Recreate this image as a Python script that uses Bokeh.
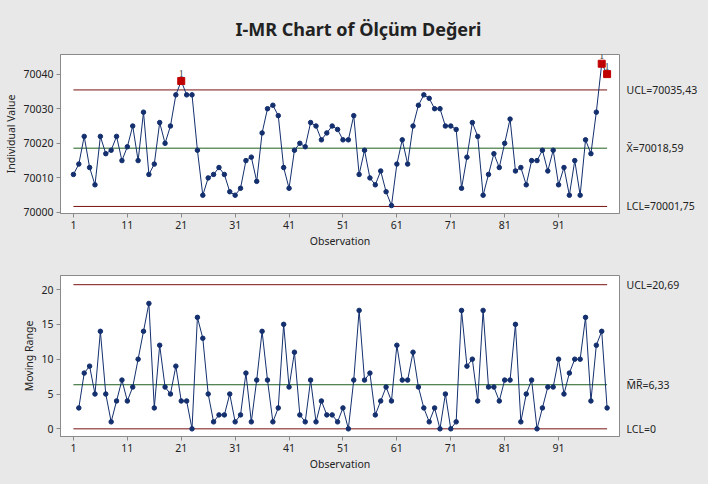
from bokeh.plotting import figure
from bokeh.layouts import column
from bokeh.models import (Range1d, FixedTicker, LabelSet, ColumnDataSource,
                          LinearAxis, Title)
from bokeh.embed import file_html
from bokeh.resources import INLINE

title_text = "I-MR Chart of Ölçüm Değeri"

observations = list(range(1, 101))
individual_values = [
    70011, 70014, 70022, 70013, 70008, 70022, 70017, 70018, 70022, 70015,
    70019, 70025, 70015, 70029, 70011, 70014, 70026, 70020, 70025, 70034,
    70038, 70034, 70034, 70018, 70005, 70010, 70011, 70013, 70011, 70006,
    70005, 70007, 70015, 70016, 70009, 70023, 70030, 70031, 70028, 70013,
    70007, 70018, 70020, 70019, 70026, 70025, 70021, 70023, 70025, 70024,
    70021, 70021, 70028, 70011, 70018, 70010, 70008, 70012, 70006, 70002,
    70014, 70021, 70014, 70025, 70031, 70034, 70033, 70030, 70030, 70025,
    70025, 70024, 70007, 70016, 70026, 70022, 70005, 70011, 70017, 70013,
    70020, 70027, 70012, 70013, 70008, 70015, 70015, 70018, 70012, 70018,
    70008, 70013, 70005, 70015, 70005, 70021, 70017, 70029, 70043, 70040,
]
mr_observations = list(range(2, 101))
moving_ranges = [
    3, 8, 9, 5, 14, 5, 1, 4, 7, 4,
    6, 10, 14, 18, 3, 12, 6, 5, 9, 4,
    4, 0, 16, 13, 5, 1, 2, 2, 5, 1,
    2, 8, 1, 7, 14, 7, 1, 3, 15, 6,
    11, 2, 1, 7, 1, 4, 2, 2, 1, 3,
    0, 7, 17, 7, 8, 2, 4, 6, 4, 12,
    7, 7, 11, 6, 3, 1, 3, 0, 5, 0,
    1, 17, 9, 10, 4, 17, 6, 6, 4, 7,
    7, 15, 1, 5, 7, 0, 3, 6, 6, 10,
    5, 8, 10, 10, 16, 4, 12, 14, 3,
]

i_limits = [70035.43, 70018.59, 70001.75]
i_limit_labels = ["UCL=70035,43", "X\u0304=70018,59", "LCL=70001,75"]
mr_limits = [20.69, 6.33, 0.0]
mr_limit_labels = ["UCL=20,69", "M\u0305R\u0305=6,33", "LCL=0"]

x_ticks = [1, 11, 21, 31, 41, 51, 61, 71, 81, 91]
i_ticks = [70000, 70010, 70020, 70030, 70040]
mr_ticks = [0, 5, 10, 15, 20]

FONT = "Noto Sans"
BG = "#e8e8e8"
LIMIT_COLOR = "#7a1212"
CENTER_COLOR = "#1f5f1f"
DATA_COLOR = "#132f6e"
RED = "#c00000"
TXT = "#222222"
FRAME = "#8a8a8a"
X_START, X_END = -1.4, 102.3


def style_axis(ax):
    ax.axis_line_color = FRAME
    ax.major_tick_line_color = FRAME
    ax.minor_tick_line_color = None
    ax.major_tick_in = 0
    ax.major_tick_out = 4
    ax.major_label_standoff = 3
    ax.major_label_text_font = FONT
    ax.major_label_text_font_size = "10.5px"
    ax.major_label_text_color = TXT
    ax.axis_label_text_font = FONT
    ax.axis_label_text_font_size = "10.5px"
    ax.axis_label_text_font_style = "normal"
    ax.axis_label_text_color = TXT
    ax.axis_label_standoff = 2


def make_fig(height, top, bottom, y0, y1, yticks, ylabel):
    p = figure(width=708, height=height, output_backend="svg", toolbar_location=None,
               x_range=Range1d(X_START, X_END), y_range=Range1d(y0, y1),
               min_border_left=60, min_border_right=89,
               min_border_top=top, min_border_bottom=bottom)
    p.background_fill_color = "white"
    p.border_fill_color = BG
    p.outline_line_color = FRAME
    p.grid.visible = False
    style_axis(p.xaxis[0])
    style_axis(p.yaxis[0])
    p.xaxis.ticker = FixedTicker(ticks=x_ticks)
    p.yaxis.ticker = FixedTicker(ticks=yticks)
    p.xaxis.axis_label = "Observation"
    p.yaxis.axis_label = ylabel
    p.styles = {"background-color": BG}
    return p


def add_limits(p, limits, labels):
    colors = [LIMIT_COLOR, CENTER_COLOR, LIMIT_COLOR]
    for lim, c in zip(limits, colors):
        p.segment(x0=observations[0], x1=observations[-1], y0=lim, y1=lim,
                  line_color=c, line_width=1)
    rax = LinearAxis(ticker=FixedTicker(ticks=limits),
                     major_label_overrides={float(l): t for l, t in zip(limits, labels)})
    rax.axis_line_color = None
    rax.major_tick_line_color = None
    rax.minor_tick_line_color = None
    rax.major_tick_in = 0
    rax.major_tick_out = 0
    rax.major_label_standoff = 7
    rax.major_label_text_font = FONT
    rax.major_label_text_font_size = "10.5px"
    rax.major_label_text_color = TXT
    p.add_layout(rax, "right")


# ---------- Individual chart ----------
p1 = make_fig(262, 53, 49, 69999.71, 70045.67, i_ticks, "Individual Value")
p1.add_layout(Title(text=title_text, align="left", offset=175, standoff=28,
                    text_font=FONT, text_font_size="18px", text_font_style="bold",
                    text_color="#222222"), "above")
add_limits(p1, i_limits, i_limit_labels)
p1.line(observations, individual_values, line_color=DATA_COLOR, line_width=1)
p1.scatter(observations, individual_values, marker="circle", size=4.5,
           fill_color=DATA_COLOR, line_color=DATA_COLOR)
ucl, lcl = i_limits[0], i_limits[2]
out_x = [o for o, v in zip(observations, individual_values) if v > ucl or v < lcl]
out_y = [v for v in individual_values if v > ucl or v < lcl]
out_src = ColumnDataSource(dict(x=out_x, y=out_y, t=["1"] * len(out_x)))
p1.scatter("x", "y", source=out_src, marker="square", size=7,
           fill_color=RED, line_color=RED)
p1.add_layout(LabelSet(x="x", y="y", text="t", source=out_src, y_offset=8,
                       text_align="center", text_baseline="middle",
                       text_font=FONT, text_font_size="10px", text_color="#444444"))

# ---------- Moving range chart ----------
p2 = make_fig(222, 13, 48, -1.1, 22.01, mr_ticks, "Moving Range")
add_limits(p2, mr_limits, mr_limit_labels)
p2.line(mr_observations, moving_ranges, line_color=DATA_COLOR, line_width=1)
p2.scatter(mr_observations, moving_ranges, marker="circle", size=4.5,
           fill_color=DATA_COLOR, line_color=DATA_COLOR)

layout = column(p1, p2, spacing=0)
layout.styles = {"background-color": BG}

open("out.html", "w").write(file_html(layout, INLINE))
